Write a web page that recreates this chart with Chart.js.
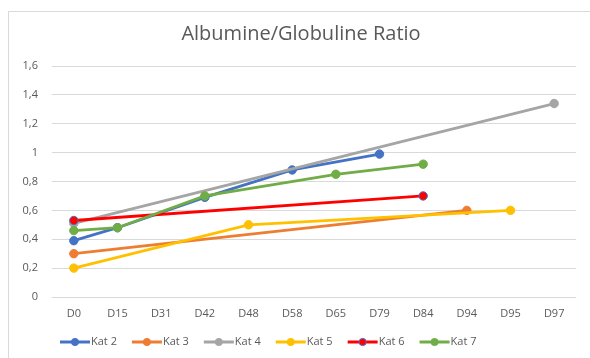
<!DOCTYPE html>
<html lang="fr">
<head>
<meta charset="UTF-8">
<title>Albumine/Globuline Ratio</title>
<script src="https://cdn.jsdelivr.net/npm/chart.js"></script>
<style>
body { margin: 0; background: #fff; }
#wrap { width: 590px; height: 358px; }
</style>
</head>
<body>
<div id="wrap"><canvas id="ratioChart"></canvas></div>
<script>
// categories (jours)
const days = ['D0', 'D15', 'D31', 'D42', 'D48', 'D58', 'D65', 'D79', 'D84', 'D94', 'D95', 'D97'];

// valeurs par catégorie (null = pas de mesure)
const kat2 = [0.39, 0.48, null, 0.69, null, 0.88, null, 0.99, null, null, null, null];
const kat3 = [0.30, null, null, null, null, null, null, null, null, 0.60, null, null];
const kat4 = [0.51, null, null, null, null, null, null, null, null, null, null, 1.34];
const kat5 = [0.20, null, null, null, 0.50, null, null, null, null, null, 0.60, null];
const kat6 = [0.53, null, null, null, null, null, null, null, 0.70, null, null, null];
const kat7 = [0.46, 0.48, null, 0.70, null, null, 0.85, null, 0.92, null, null, null];

const seriesNames = ['Kat 2', 'Kat 3', 'Kat 4', 'Kat 5', 'Kat 6', 'Kat 7'];
const yTickLabels = ['0', '0,2', '0,4', '0,6', '0,8', '1', '1,2', '1,4', '1,6'];

const lineColors = ['#4472C4', '#ED7D31', '#A5A5A5', '#FFC000', '#FF0000', '#70AD47'];
const markerBorders = ['#4472C4', '#ED7D31', '#A5A5A5', '#FFC000', '#4472C4', '#70AD47'];

const FONT = '"Open Sans", "Liberation Sans", sans-serif';
const TEXT = '#595959';

// largeur du plus long label Y (pour aligner a droite avec mirror)
const measure = document.createElement('canvas').getContext('2d');
measure.font = '11px ' + FONT;
const widestY = Math.max(...yTickLabels.map(t => measure.measureText(t).width));

const allSeries = [kat2, kat3, kat4, kat5, kat6, kat7];
const datasets = allSeries.map((vals, i) => ({
    label: seriesNames[i],
    data: vals,
    borderColor: lineColors[i],
    backgroundColor: lineColors[i],
    pointBackgroundColor: lineColors[i],
    pointBorderColor: markerBorders[i],
    pointBorderWidth: 1,
    pointRadius: 4.2,
    borderWidth: 2.8,
    spanGaps: true,
    tension: 0,
    order: allSeries.length - i   // derniere serie au dessus, comme Excel
}));

// cadre gris clair autour du graphique
const chartFrame = {
    id: 'chartFrame',
    beforeDraw(chart) {
        const ctx = chart.ctx;
        ctx.save();
        ctx.fillStyle = '#fff';
        ctx.fillRect(0, 0, chart.width, chart.height);
        ctx.strokeStyle = '#D9D9D9';
        ctx.lineWidth = 1;
        ctx.strokeRect(8.5, 11.5, chart.width, chart.height);
        ctx.restore();
    }
};

// legende style Excel : trait + rond, texte colle au trait
const excelLegend = {
    id: 'excelLegend',
    afterDraw(chart) {
        const ctx = chart.ctx;
        const y = 342;
        let x = 60;
        ctx.save();
        ctx.font = '11px ' + FONT;
        ctx.textBaseline = 'middle';
        ctx.textAlign = 'left';
        chart.data.datasets.forEach((ds, i) => {
            ctx.strokeStyle = lineColors[i];
            ctx.lineWidth = 3;
            ctx.beginPath(); ctx.moveTo(x, y); ctx.lineTo(x + 30, y); ctx.stroke();
            ctx.fillStyle = lineColors[i];
            ctx.strokeStyle = markerBorders[i];
            ctx.lineWidth = 1;
            ctx.beginPath(); ctx.arc(x + 15, y, 3.6, 0, Math.PI * 2); ctx.fill(); ctx.stroke();
            ctx.fillStyle = TEXT;
            ctx.fillText(ds.label, x + 31, y);
            x += 31 + ctx.measureText(ds.label).width + 15;
        });
        ctx.restore();
    }
};

const ctx = document.getElementById('ratioChart').getContext('2d');
new Chart(ctx, {
    type: 'line',
    data: { labels: days, datasets: datasets },
    options: {
        responsive: true,
        maintainAspectRatio: false,
        animation: false,
        layout: { padding: { top: 10, left: 26, right: 14, bottom: 27 } },
        plugins: {
            title: {
                display: true,
                text: 'Albumine/Globuline Ratio',
                color: TEXT,
                font: { family: FONT, size: 20, weight: 'normal' },
                padding: { top: 12, bottom: 20 }
            },
            legend: { display: false },
            tooltip: { enabled: false }
        },
        scales: {
            x: {
                offset: true,
                grid: { display: false, drawTicks: false },
                border: { display: false },
                ticks: { color: TEXT, font: { family: FONT, size: 11 }, padding: 10.4, maxRotation: 0 }
            },
            y: {
                min: 0,
                max: 1.6,
                afterFit(scale) { scale.width = 26; },
                grid: { color: '#D9D9D9', lineWidth: 1, drawTicks: false },
                border: { display: false },
                ticks: {
                    stepSize: 0.2,
                    mirror: true,
                    crossAlign: 'far',
                    padding: -14 - widestY,
                    color: TEXT,
                    font: { family: FONT, size: 11 },
                    callback: (v, i) => yTickLabels[i]
                }
            }
        }
    },
    plugins: [chartFrame, excelLegend]
});
</script>
</body>
</html>
